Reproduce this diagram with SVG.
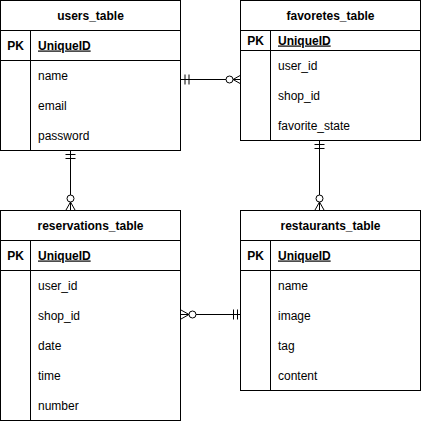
<svg xmlns="http://www.w3.org/2000/svg" width="422" height="422" viewBox="0 0 422 422">
<style>
.box{fill:#fff;stroke:#000;stroke-width:1}
.ln{fill:none;stroke:#000;stroke-width:1}
.ttl{font-family:"Liberation Sans",Arial,Helvetica,sans-serif;font-size:12px;font-weight:bold;text-anchor:middle;fill:#000}
.pk{font-family:"Liberation Sans",Arial,Helvetica,sans-serif;font-size:12px;font-weight:bold;text-anchor:middle;fill:#000}
.uid{font-family:"Liberation Sans",Arial,Helvetica,sans-serif;font-size:12px;font-weight:bold;text-decoration:underline;fill:#000}
.fld{font-family:"Liberation Sans",Arial,Helvetica,sans-serif;font-size:12px;fill:#000}
.circ{fill:#fff;stroke:#000;stroke-width:1}
</style>
<rect width="422" height="422" fill="#fff"/>
<g id="connectors">
  <!-- users -> favoretes -->
  <path class="ln" d="M181,79.5 H241 M185,74.5 V84.5 M189,74.5 V84.5 M233,79.5 L241,75 M233,79.5 L241,84"/>
  <circle class="circ" cx="229.5" cy="79.5" r="3.5"/>
  <!-- users -> reservations -->
  <path class="ln" d="M70.5,151 V210 M65.5,154.5 H75.5 M65.5,158.5 H75.5 M70.5,202 L66,210 M70.5,202 L75,210"/>
  <circle class="circ" cx="70.5" cy="198.5" r="3.5"/>
  <!-- favoretes -> restaurants -->
  <path class="ln" d="M319.5,141 V210 M314.5,144.5 H324.5 M314.5,148.5 H324.5 M319.5,202 L315,210 M319.5,202 L324,210"/>
  <circle class="circ" cx="319.5" cy="198.5" r="3.5"/>
  <!-- reservations -> restaurants -->
  <path class="ln" d="M181,314.5 H241 M189,314.5 L181,310 M189,314.5 L181,319 M233.5,309.5 V319.5 M237.5,309.5 V319.5"/>
  <circle class="circ" cx="192.5" cy="314.5" r="3.5"/>
</g>
<g id="users_table">
  <rect class="box" x="0.5" y="0.5" width="180" height="150"/>
  <path class="ln" d="M0.5,30.5 H180.5 M0.5,60.5 H180.5 M30.5,30.5 V150.5"/>
  <text class="ttl" x="90.5" y="19.5">users_table</text>
  <text class="pk" x="15.5" y="49.5">PK</text>
  <text class="uid" x="38" y="49.5">UniqueID</text>
  <text class="fld" x="38" y="79.5">name</text>
  <text class="fld" x="38" y="109.5">email</text>
  <text class="fld" x="38" y="139.5">password</text>
</g>
<g id="favoretes_table">
  <rect class="box" x="240.5" y="0.5" width="180" height="140"/>
  <path class="ln" d="M240.5,30.5 H420.5 M240.5,50.5 H420.5 M270.5,30.5 V140.5"/>
  <text class="ttl" x="330.5" y="19.5">favoretes_table</text>
  <text class="pk" x="255.5" y="44.5">PK</text>
  <text class="uid" x="278" y="44.5">UniqueID</text>
  <text class="fld" x="278" y="69.5">user_id</text>
  <text class="fld" x="278" y="99.5">shop_id</text>
  <text class="fld" x="278" y="129.5">favorite_state</text>
</g>
<g id="reservations_table">
  <rect class="box" x="0.5" y="210.5" width="180" height="210"/>
  <path class="ln" d="M0.5,240.5 H180.5 M0.5,270.5 H180.5 M30.5,240.5 V420.5"/>
  <text class="ttl" x="90.5" y="229.5">reservations_table</text>
  <text class="pk" x="15.5" y="259.5">PK</text>
  <text class="uid" x="38" y="259.5">UniqueID</text>
  <text class="fld" x="38" y="289.5">user_id</text>
  <text class="fld" x="38" y="319.5">shop_id</text>
  <text class="fld" x="38" y="349.5">date</text>
  <text class="fld" x="38" y="379.5">time</text>
  <text class="fld" x="38" y="409.5">number</text>
</g>
<g id="restaurants_table">
  <rect class="box" x="240.5" y="210.5" width="180" height="180"/>
  <path class="ln" d="M240.5,240.5 H420.5 M240.5,270.5 H420.5 M270.5,240.5 V390.5"/>
  <text class="ttl" x="330.5" y="229.5">restaurants_table</text>
  <text class="pk" x="255.5" y="259.5">PK</text>
  <text class="uid" x="278" y="259.5">UniqueID</text>
  <text class="fld" x="278" y="289.5">name</text>
  <text class="fld" x="278" y="319.5">image</text>
  <text class="fld" x="278" y="349.5">tag</text>
  <text class="fld" x="278" y="379.5">content</text>
</g>
</svg>
